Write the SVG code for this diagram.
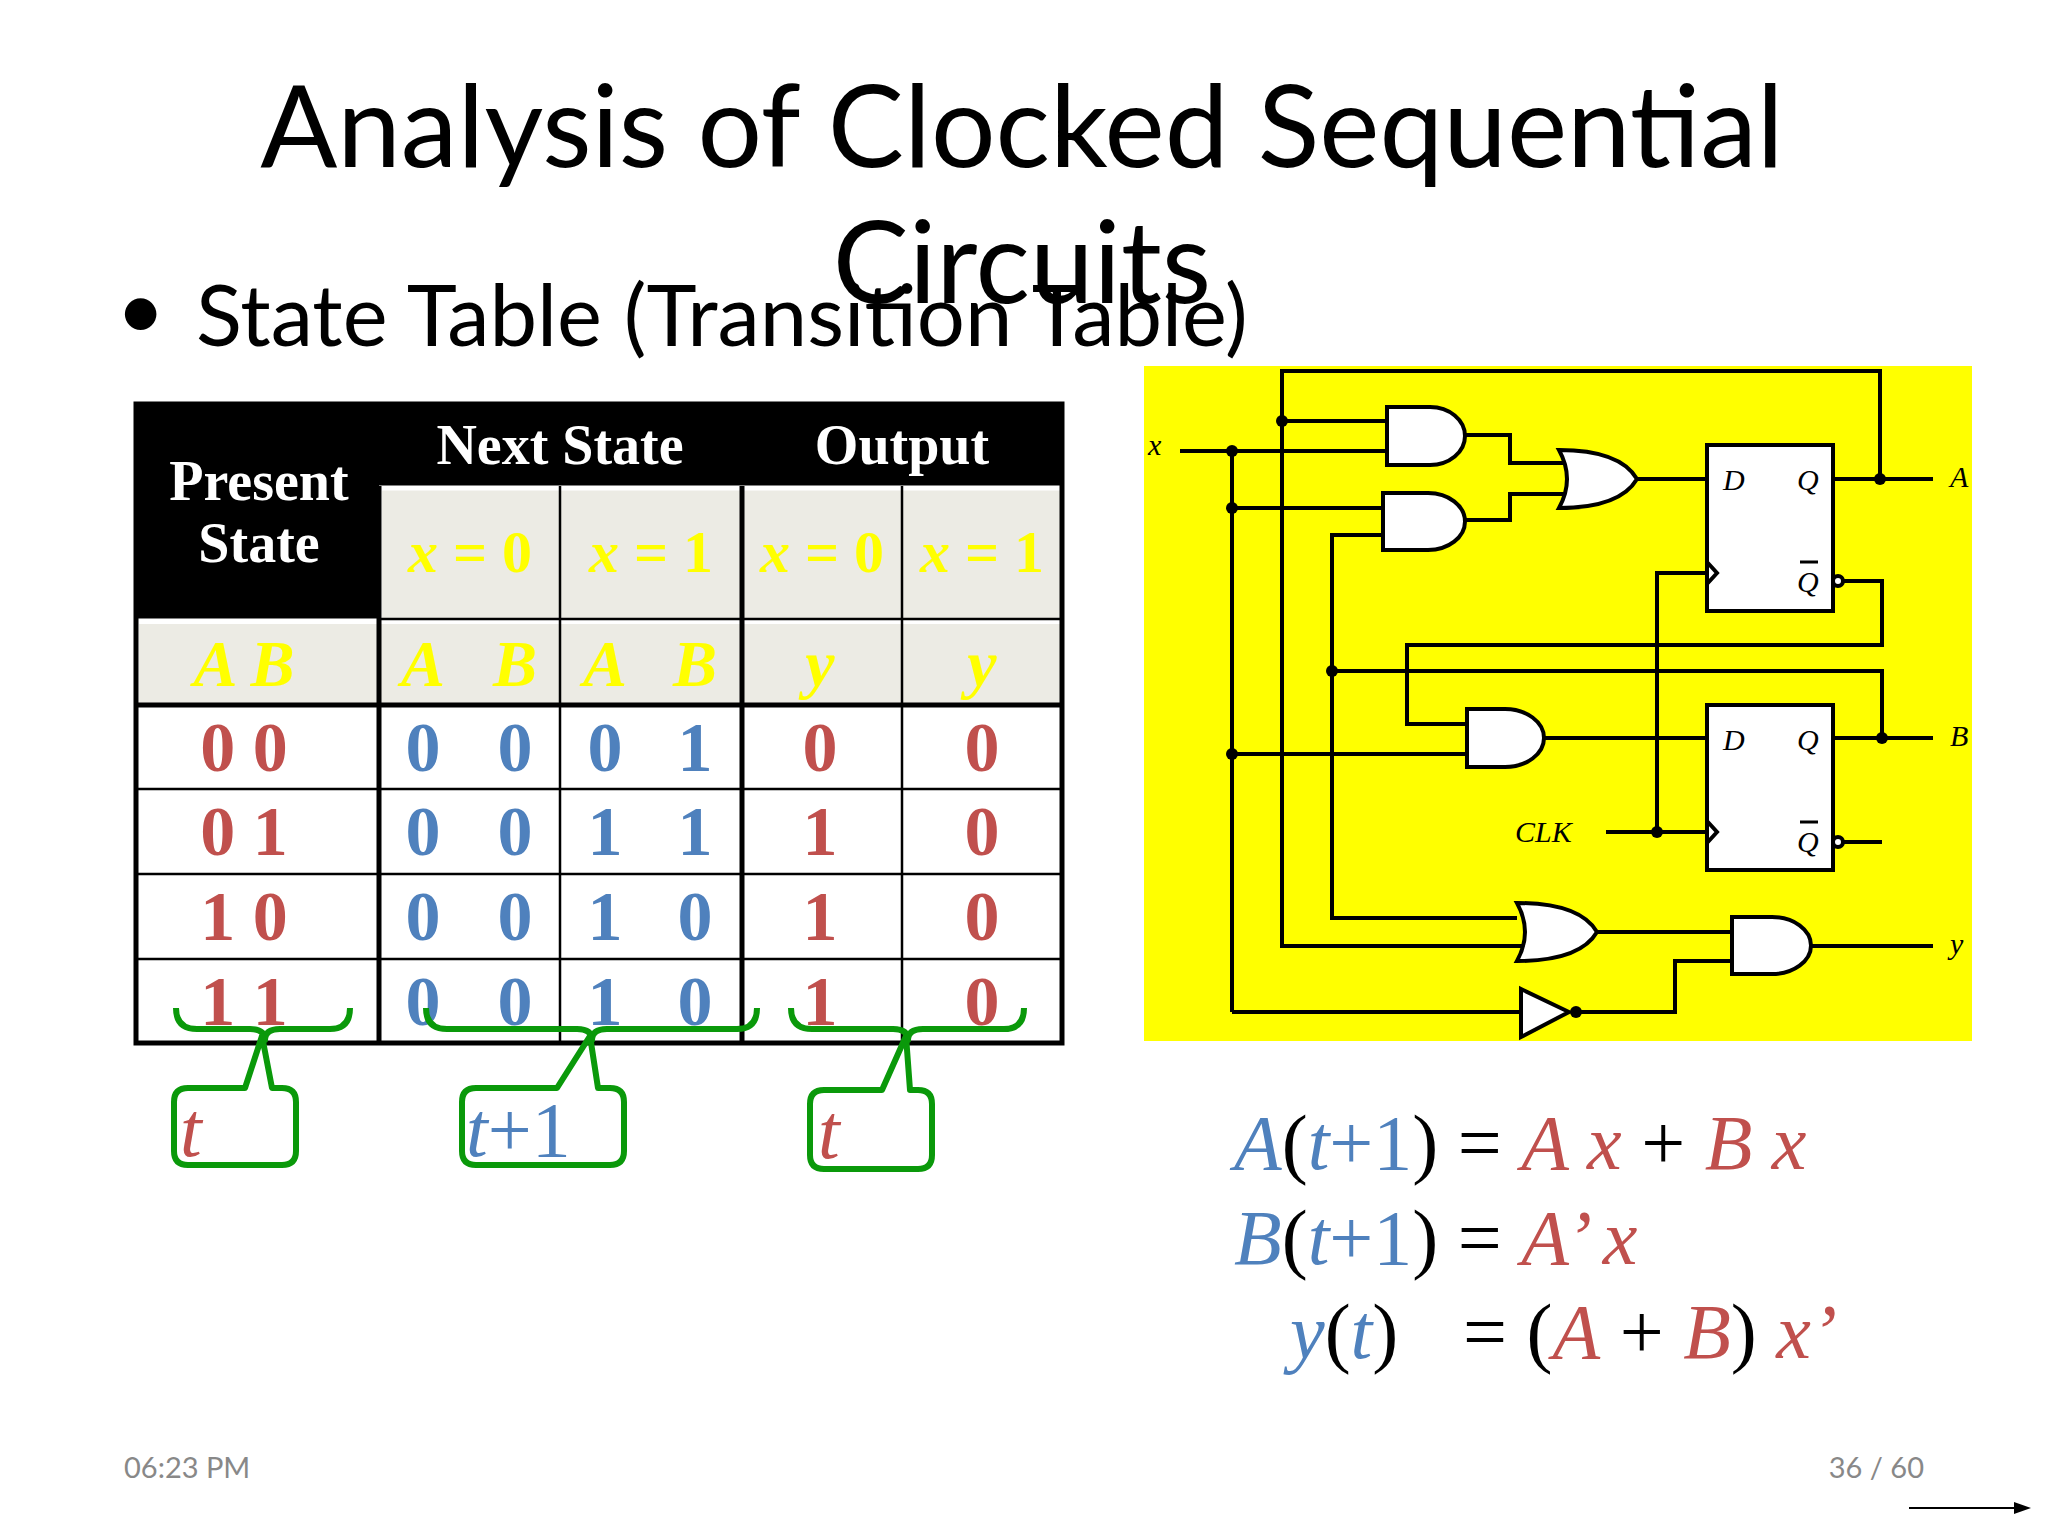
<svg xmlns="http://www.w3.org/2000/svg" width="2048" height="1536" viewBox="0 0 2048 1536">
<style>
.w{stroke:#000;stroke-width:4;fill:none}
.g{fill:#fff;stroke:#000;stroke-width:4}
.dot{fill:#000}
.ci{font-family:'Liberation Serif',serif;font-style:italic;font-size:30px;fill:#000}
.hd{font-family:'Liberation Serif',serif;font-weight:bold;font-size:56px;fill:#fff;text-anchor:middle}
.yl{font-family:'Liberation Serif',serif;font-weight:bold;font-size:60px;fill:#ffff00;text-anchor:middle}
.ylb{font-family:'Liberation Serif',serif;font-weight:bold;font-style:italic;font-size:66px;fill:#ffff00;text-anchor:middle}
.r{font-family:'Liberation Serif',serif;font-weight:bold;font-size:70px;fill:#c0504d;text-anchor:middle}
.b{font-family:'Liberation Serif',serif;font-weight:bold;font-size:70px;fill:#4f81bd;text-anchor:middle}
.br{fill:none;stroke:#0a990a;stroke-width:6;stroke-linejoin:round}
.eq{font-family:'Liberation Serif',serif;font-size:78px}
.it{font-style:italic}
.red{fill:#c0504d}.blu{fill:#4f81bd}.blk{fill:#000}
.ft{font-family:Lato,'Liberation Sans',sans-serif;font-size:29px;fill:#888}
</style>
<rect width="2048" height="1536" fill="#fff"/>
<g id="title" font-family="Lato,'Liberation Sans',sans-serif" font-size="114" fill="#000" text-anchor="middle">
<text x="1022" y="167">Analysis of Clocked Sequential</text>
<text x="1022" y="303">Circuits</text>
</g>
<g id="bullet" font-family="Lato,'Liberation Sans',sans-serif" font-size="85" fill="#000">
<text x="116" y="340">•</text>
<text x="196" y="346">State Table (Transition Table)</text>
</g>
<g id="table">
<rect x="136" y="404" width="926" height="639" fill="#fff"/>
<rect x="136" y="404" width="926" height="82" fill="#000"/>
<rect x="136" y="404" width="243" height="215" fill="#000"/>
<rect x="382" y="490" width="678" height="129" fill="#ecebe4"/>
<rect x="139" y="624" width="921" height="81" fill="#ecebe4"/>
<line x1="136" y1="621" x2="379" y2="621" stroke="#fff" stroke-width="5"/>
<line x1="379" y1="488" x2="1062" y2="488" stroke="#fff" stroke-width="5"/>
<g stroke="#000" stroke-width="2.5">
<line x1="560" y1="486" x2="560" y2="1043"/><line x1="902" y1="486" x2="902" y2="1043"/>
<line x1="379" y1="619" x2="1062" y2="619"/>
<line x1="136" y1="789" x2="1062" y2="789"/><line x1="136" y1="874" x2="1062" y2="874"/><line x1="136" y1="959" x2="1062" y2="959"/>
</g>
<g stroke="#000" stroke-width="5" fill="none">
<line x1="379" y1="486" x2="379" y2="1043"/><line x1="742" y1="486" x2="742" y2="1043"/>
<line x1="136" y1="705" x2="1062" y2="705"/>
<rect x="136" y="404" width="926" height="639"/>
</g>
<text class="hd" x="259" y="500">Present</text><text class="hd" x="259" y="562">State</text>
<text class="hd" x="560" y="464">Next State</text><text class="hd" x="902" y="464">Output</text>
<text class="yl" x="470" y="572"><tspan font-style="italic">x</tspan> = 0</text><text class="yl" x="651" y="572"><tspan font-style="italic">x</tspan> = 1</text>
<text class="yl" x="822" y="572"><tspan font-style="italic">x</tspan> = 0</text><text class="yl" x="982" y="572"><tspan font-style="italic">x</tspan> = 1</text>
<text class="ylb" x="244" y="686">A B</text>
<text class="ylb" x="423" y="686">A</text><text class="ylb" x="515" y="686">B</text>
<text class="ylb" x="605" y="686">A</text><text class="ylb" x="695" y="686">B</text>
<text class="ylb" x="820" y="686">y</text><text class="ylb" x="982" y="686">y</text>
<g>
<text class="r" x="244" y="771">0 0</text><text class="b" x="423" y="771">0</text><text class="b" x="515" y="771">0</text><text class="b" x="605" y="771">0</text><text class="b" x="695" y="771">1</text><text class="r" x="820" y="771">0</text><text class="r" x="982" y="771">0</text>
<text class="r" x="244" y="855">0 1</text><text class="b" x="423" y="855">0</text><text class="b" x="515" y="855">0</text><text class="b" x="605" y="855">1</text><text class="b" x="695" y="855">1</text><text class="r" x="820" y="855">1</text><text class="r" x="982" y="855">0</text>
<text class="r" x="244" y="940">1 0</text><text class="b" x="423" y="940">0</text><text class="b" x="515" y="940">0</text><text class="b" x="605" y="940">1</text><text class="b" x="695" y="940">0</text><text class="r" x="820" y="940">1</text><text class="r" x="982" y="940">0</text>
<text class="r" x="244" y="1025">1 1</text><text class="b" x="423" y="1025">0</text><text class="b" x="515" y="1025">0</text><text class="b" x="605" y="1025">1</text><text class="b" x="695" y="1025">0</text><text class="r" x="820" y="1025">1</text><text class="r" x="982" y="1025">0</text>
</g>
</g>
<g id="callouts">
<path class="br" d="M176,1008 Q176,1029 197,1029 H250 Q265,1029 265,1040 Q265,1029 280,1029 H330 Q350,1029 350,1008"/>
<path class="br" d="M188,1088 H245 L262,1036 L272,1088 H282 Q296,1088 296,1102 V1151 Q296,1165 282,1165 H188 Q174,1165 174,1151 V1102 Q174,1088 188,1088 Z"/>
<path class="br" d="M426,1008 Q426,1029 447,1029 H577 Q592,1029 592,1040 Q592,1029 607,1029 H737 Q757,1029 757,1008"/>
<path class="br" d="M476,1088 H557 L590,1036 L598,1088 H610 Q624,1088 624,1102 V1151 Q624,1165 610,1165 H476 Q462,1165 462,1151 V1102 Q462,1088 476,1088 Z"/>
<path class="br" d="M791,1008 Q791,1029 812,1029 H893 Q908,1029 908,1040 Q908,1029 923,1029 H1004 Q1024,1029 1024,1008"/>
<path class="br" d="M824,1090 H882 L906,1036 L910,1090 H918 Q932,1090 932,1104 V1155 Q932,1169 918,1169 H824 Q810,1169 810,1155 V1104 Q810,1090 824,1090 Z"/>
<text class="eq it red" x="180" y="1156" font-size="62">t</text>
<text class="eq blu" x="466" y="1156" font-size="62"><tspan class="it">t</tspan>+1</text>
<text class="eq it red" x="818" y="1158" font-size="62">t</text>
</g>
<g id="circuit">
<rect x="1144" y="366" width="828" height="675" fill="#ffff00"/>
<g class="w">
<polyline points="1522,946 1282,946 1282,371 1880,371 1880,479"/>
<polyline points="1232,451 1232,1012"/>
<line x1="1180" y1="451" x2="1387" y2="451"/>
<line x1="1282" y1="421" x2="1387" y2="421"/>
<line x1="1232" y1="508" x2="1383" y2="508"/>
<polyline points="1383,535 1332,535 1332,918 1517,918"/>
<polyline points="1465,435 1510,435 1510,463 1565,463"/>
<polyline points="1465,520 1510,520 1510,494 1565,494"/>
<line x1="1637" y1="479" x2="1707" y2="479"/>
<line x1="1833" y1="479" x2="1933" y2="479"/>
<polyline points="1843,581 1882,581 1882,645 1407,645 1407,724 1467,724"/>
<polyline points="1332,671 1882,671 1882,738"/>
<line x1="1232" y1="754" x2="1467" y2="754"/>
<line x1="1544" y1="738" x2="1707" y2="738"/>
<line x1="1833" y1="738" x2="1933" y2="738"/>
<line x1="1843" y1="842" x2="1882" y2="842"/>
<line x1="1606" y1="832" x2="1707" y2="832"/>
<polyline points="1657,832 1657,573 1707,573"/>
<line x1="1597" y1="932" x2="1732" y2="932"/>
<polyline points="1573,1012 1675,1012 1675,961 1732,961"/>
<line x1="1232" y1="1012" x2="1521" y2="1012"/>
<line x1="1811" y1="946" x2="1933" y2="946"/>
</g>
<g class="g">
<path d="M1387,407 H1430 A35,29 0 0 1 1430,465 H1387 Z"/>
<path d="M1383,493 H1428 A37,28.5 0 0 1 1428,550 H1383 Z"/>
<path d="M1467,709 H1505 A39,29 0 0 1 1505,767 H1467 Z"/>
<path d="M1732,917 H1772 A39,28.5 0 0 1 1772,974 H1732 Z"/>
<path d="M1559,450 Q1620,450 1637,479 Q1620,508 1559,508 Q1575,479 1559,450 Z"/>
<path d="M1517,903 Q1580,903 1597,932 Q1580,961 1517,961 Q1533,932 1517,903 Z"/>
<path d="M1521,989 L1569,1012 L1521,1037 Z"/>
<rect x="1707" y="445" width="126" height="166"/>
<rect x="1707" y="705" width="126" height="165"/>
<circle cx="1838" cy="581" r="5"/><circle cx="1838" cy="842" r="5"/>
<polyline points="1707,562 1717,573 1707,584" fill="none"/>
<polyline points="1707,821 1717,832 1707,843" fill="none"/>
</g>
<g class="dot">
<circle cx="1282" cy="421" r="6"/><circle cx="1232" cy="451" r="6"/><circle cx="1232" cy="508" r="6"/>
<circle cx="1232" cy="754" r="6"/><circle cx="1332" cy="671" r="6"/><circle cx="1880" cy="479" r="6"/>
<circle cx="1882" cy="738" r="6"/><circle cx="1657" cy="832" r="6"/><circle cx="1576" cy="1012" r="6"/>
</g>
<g class="ci">
<text x="1148" y="455">x</text>
<text x="1723" y="490">D</text><text x="1797" y="490">Q</text><text x="1797" y="592">Q</text>
<text x="1723" y="750">D</text><text x="1797" y="750">Q</text><text x="1797" y="852">Q</text>
<line x1="1800" y1="562" x2="1818" y2="562" stroke="#000" stroke-width="3"/>
<line x1="1800" y1="822" x2="1818" y2="822" stroke="#000" stroke-width="3"/>
<text x="1950" y="487">A</text><text x="1950" y="746">B</text><text x="1950" y="954">y</text>
<text x="1515" y="842">CLK</text>
</g>
</g>
<g id="equations" class="eq">
<text x="1234" y="1169"><tspan class="it blu">A</tspan><tspan class="blk">(</tspan><tspan class="it blu">t</tspan><tspan class="blu">+1</tspan><tspan class="blk">) = </tspan><tspan class="it red">A x</tspan><tspan class="blk"> + </tspan><tspan class="it red">B x</tspan></text>
<text x="1234" y="1264"><tspan class="it blu">B</tspan><tspan class="blk">(</tspan><tspan class="it blu">t</tspan><tspan class="blu">+1</tspan><tspan class="blk">) = </tspan><tspan class="it red">A’ x</tspan></text>
<text x="1290" y="1358"><tspan class="it blu">y</tspan><tspan class="blk">(</tspan><tspan class="it blu">t</tspan><tspan class="blk">)</tspan></text>
<text x="1463" y="1358"><tspan class="blk">= (</tspan><tspan class="it red">A</tspan><tspan class="blk"> + </tspan><tspan class="it red">B</tspan><tspan class="blk">) </tspan><tspan class="it red">x’</tspan></text>
</g>
<g id="footer">
<text class="ft" x="124" y="1478">06:23 PM</text>
<text class="ft" x="1924" y="1478" text-anchor="end">36 / 60</text>
<line x1="1909" y1="1508" x2="2028" y2="1508" stroke="#000" stroke-width="2"/>
<path d="M2031,1508 L2014,1502 L2014,1514 Z" fill="#000"/>
</g>
</svg>
